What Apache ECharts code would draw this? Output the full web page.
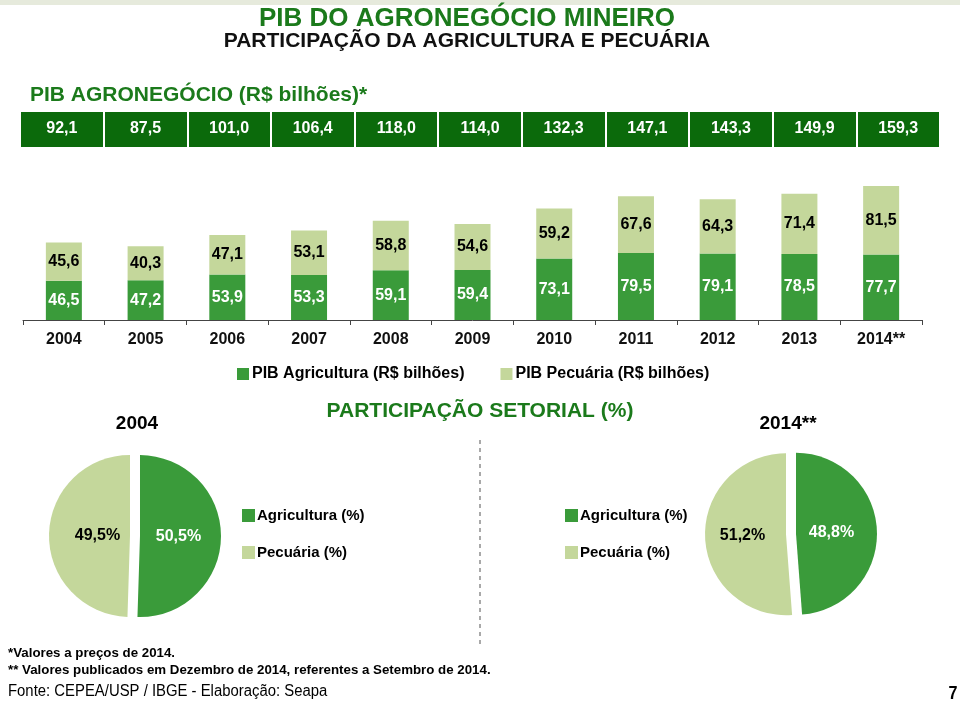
<!DOCTYPE html>
<html>
<head>
<meta charset="utf-8">
<script src="https://cdn.jsdelivr.net/npm/echarts@6/dist/echarts.min.js"></script>
<style>
  html, body { margin: 0; padding: 0; background: #fff; }
  #chart { width: 960px; height: 702px; }
</style>
</head>
<body>
<div id="chart"></div>
<script>
// dados (R$ bilhões)
const years = ['2004', '2005', '2006', '2007', '2008', '2009', '2010', '2011', '2012', '2013', '2014**']
const agri = [46.5, 47.2, 53.9, 53.3, 59.1, 59.4, 73.1, 79.5, 79.1, 78.5, 77.7]
const pec = [45.6, 40.3, 47.1, 53.1, 58.8, 54.6, 59.2, 67.6, 64.3, 71.4, 81.5]
const totals = [92.1, 87.5, 101.0, 106.4, 118.0, 114.0, 132.3, 147.1, 143.3, 149.9, 159.3]
// participação setorial (%) -> [agricultura, pecuária]
const share2004 = [50.5, 49.5]
const share2014 = [48.8, 51.2]
const sectorNames = ['Agricultura (%)', 'Pecuária (%)']

const DARK = '#3a9b3a'
const LIGHT = '#c4d79b'
const BAND = '#0b6a0b'
const TITLE_GREEN = '#1b7a1b'
const SANS = '"Liberation Sans", Arial, sans-serif'

const fmt = v => v.toFixed(1).replace('.', ',')

function text (str, x, y, font, color, align, scaleX) {
  return {
    type: 'text',
    x: x,
    y: y,
    scaleX: scaleX || 1,
    silent: true,
    style: { text: str, font: font, fill: color, align: align || 'left', verticalAlign: 'middle' }
  }
}

const chart = echarts.init(document.getElementById('chart'), null, { renderer: 'canvas' })

const pieBase = {
  type: 'pie',
  radius: 81,
  startAngle: 90,
  clockwise: true,
  selectedMode: 'multiple',
  selectedOffset: 5,
  emphasis: { scale: false },
  labelLine: { show: false },
  label: {
    show: true,
    position: 'inner',
    fontSize: 16,
    fontWeight: 'bold',
    fontFamily: SANS,
    formatter: p => fmt(p.value) + '%'
  }
}

// pads: deslocamento fino dos rótulos dentro das fatias
function pieData (share, padAgri, padPec) {
  return [
    { name: sectorNames[0], value: share[0], selected: true, itemStyle: { color: DARK }, label: { color: '#fff', padding: padAgri } },
    { name: sectorNames[1], value: share[1], selected: true, itemStyle: { color: LIGHT }, label: { color: '#000', padding: padPec } }
  ]
}

function pieLegend (left) {
  return {
    data: sectorNames,
    orient: 'vertical',
    left: left,
    top: 503,
    itemWidth: 13,
    itemHeight: 13,
    itemGap: 22,
    icon: 'rect',
    selectedMode: false,
    textStyle: { fontSize: 15, fontWeight: 'bold', color: '#000', fontFamily: SANS, padding: [0, 0, 0, -3] }
  }
}

const option = {
  backgroundColor: '#fff',
  animation: false,
  textStyle: { fontFamily: SANS },
  graphic: [
    { type: 'rect', shape: { x: 0, y: 0, width: 960, height: 5 }, style: { fill: '#e6eadc' }, silent: true },
    text('PIB DO AGRONEGÓCIO MINEIRO', 467, 19, 'bold 26px ' + SANS, TITLE_GREEN, 'center'),
    text('PARTICIPAÇÃO DA AGRICULTURA E PECUÁRIA', 467, 41, 'bold 21px ' + SANS, '#111', 'center'),
    text('PIB AGRONEGÓCIO (R$ bilhões)*', 30, 95, 'bold 21px ' + SANS, TITLE_GREEN, 'left'),
    text('PARTICIPAÇÃO SETORIAL (%)', 480, 411, 'bold 21px ' + SANS, TITLE_GREEN, 'center'),
    text('2004', 137, 424, 'bold 19px ' + SANS, '#000', 'center'),
    text('2014**', 788, 424, 'bold 19px ' + SANS, '#000', 'center'),
    {
      type: 'line',
      silent: true,
      shape: { x1: 480, y1: 440, x2: 480, y2: 646 },
      style: { stroke: '#555', lineWidth: 1, lineDash: [4, 4] }
    },
    text('*Valores a preços de 2014.', 8, 653, 'bold 13.3px ' + SANS, '#000', 'left'),
    text('** Valores publicados em Dezembro de 2014, referentes a Setembro de 2014.', 8, 670, 'bold 13.3px ' + SANS, '#000', 'left'),
    text('Fonte: CEPEA/USP / IBGE - Elaboração: Seapa', 8, 692, '16px ' + SANS, '#000', 'left', 0.93),
    text('7', 953, 694, 'bold 19px ' + SANS, '#000', 'center', 0.85)
  ],
  legend: [
    {
      data: ['PIB Agricultura (R$ bilhões)', 'PIB Pecuária (R$ bilhões)'],
      left: 232,
      top: 361,
      itemWidth: 12,
      itemHeight: 12,
      itemGap: 36,
      icon: 'rect',
      selectedMode: false,
      textStyle: { fontSize: 16, fontWeight: 'bold', color: '#000', fontFamily: SANS, padding: [0, 0, 0, -2] }
    },
    pieLegend(237),
    pieLegend(560)
  ],
  grid: [
    // faixa com o total
    { left: 20, top: 112, width: 920, height: 35 },
    // barras empilhadas
    { left: 23, top: 160, width: 899, height: 160 }
  ],
  xAxis: [
    {
      gridIndex: 0,
      type: 'category',
      data: totals.map(fmt),
      axisLine: { show: false },
      axisTick: { show: false },
      axisLabel: { margin: -26, color: '#fff', fontSize: 16, fontWeight: 'bold', fontFamily: SANS },
      splitArea: { show: true, areaStyle: { color: [BAND] } },
      splitLine: { show: true, lineStyle: { color: '#fff', width: 2 } }
    },
    {
      gridIndex: 1,
      type: 'category',
      data: years,
      axisLine: { lineStyle: { color: '#444', width: 1 } },
      axisTick: { show: true, length: 5, lineStyle: { color: '#444' } },
      axisLabel: { margin: 12, color: '#111', fontSize: 16, fontWeight: 'bold', fontFamily: SANS }
    }
  ],
  yAxis: [
    { gridIndex: 0, type: 'value', show: false, min: 0, max: 1 },
    { gridIndex: 1, type: 'value', show: false, min: 0, max: 190 }
  ],
  series: [
    {
      name: 'PIB Agricultura (R$ bilhões)',
      type: 'bar',
      xAxisIndex: 1,
      yAxisIndex: 1,
      stack: 'pib',
      barWidth: 36,
      itemStyle: { color: DARK },
      label: {
        show: true,
        position: 'inside',
        color: '#fff',
        fontSize: 16,
        fontWeight: 'bold',
        fontFamily: SANS,
        formatter: p => fmt(p.value)
      },
      data: agri
    },
    {
      name: 'PIB Pecuária (R$ bilhões)',
      type: 'bar',
      xAxisIndex: 1,
      yAxisIndex: 1,
      stack: 'pib',
      barWidth: 36,
      itemStyle: { color: LIGHT },
      label: {
        show: true,
        position: 'inside',
        color: '#000',
        fontSize: 16,
        fontWeight: 'bold',
        fontFamily: SANS,
        formatter: p => fmt(p.value)
      },
      data: pec
    },
    Object.assign({}, pieBase, {
      name: '2004',
      center: [135, 536],
      data: pieData(share2004, [0, 10, 0, 0], [0, 0, 0, 22])
    }),
    Object.assign({}, pieBase, {
      name: '2014',
      center: [791, 534],
      data: pieData(share2014, [0, 16, 10, 0], [18, 0, 0, 0])
    })
  ]
}

chart.setOption(option)
window.onresize = function () {
  chart.resize()
}
</script>
</body>
</html>
